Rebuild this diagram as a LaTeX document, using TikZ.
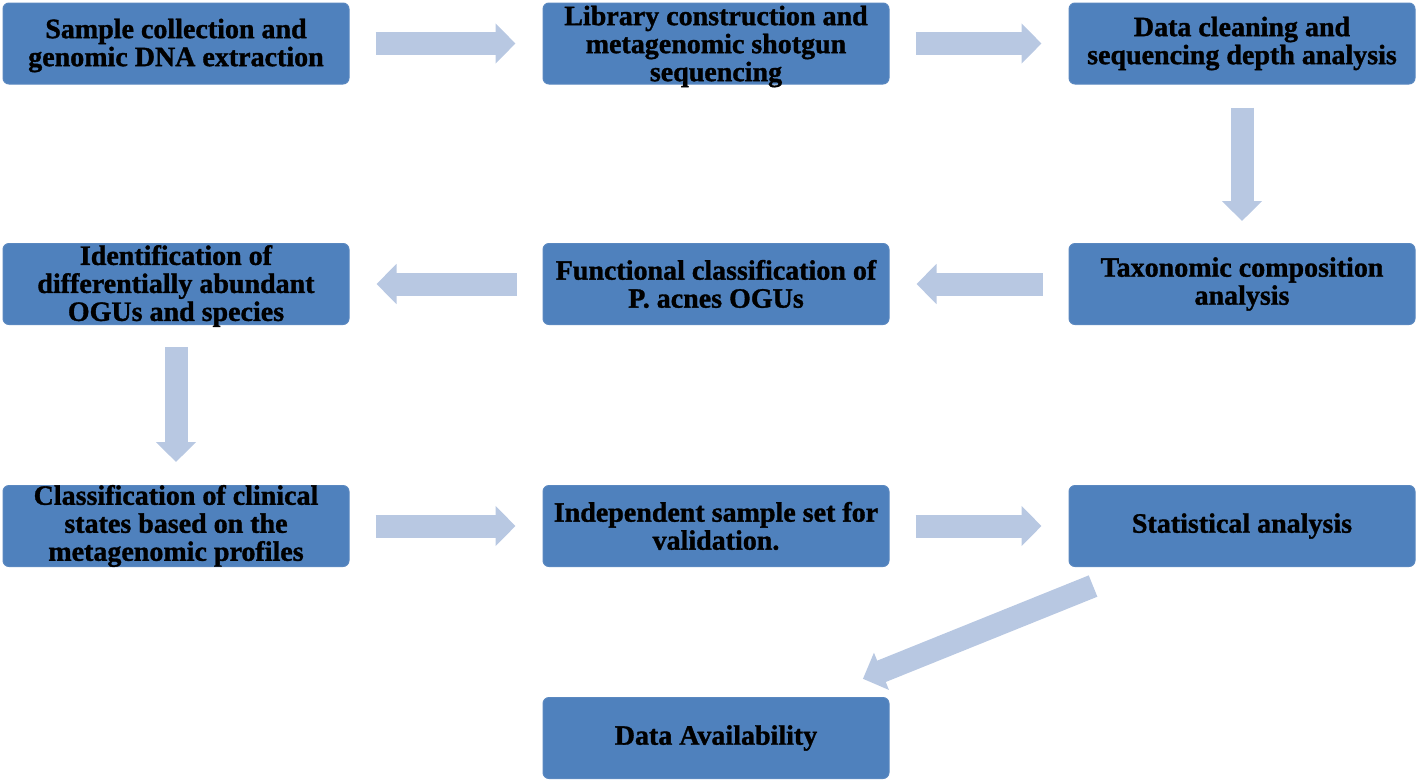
\documentclass[tikz,border=0pt]{standalone}
\usepackage{fontspec}
\setmainfont{Liberation Serif}
\newfontfamily\heavyfont{Liberation Serif Bold}[FakeBold=1.2]
\usetikzlibrary{arrows.meta}
\definecolor{boxblue}{HTML}{4F81BD}
\definecolor{boxedge}{HTML}{5A88C0}
\definecolor{arrowblue}{HTML}{B8C8E2}
\tikzset{
  box/.style={fill=boxblue, draw=boxedge, line width=0.5pt, rounded corners=3pt,
    minimum width=173pt, minimum height=40.5pt, inner sep=0pt},
  txt/.style={font=\fontsize{14}{14}\selectfont\heavyfont, align=center, inner sep=0pt, text=black},
  flow/.style={draw=arrowblue, line width=11.5pt, -{Triangle[length=10pt,width=19.5pt]}},
}
\begin{document}
\begin{tikzpicture}[x=0.5pt,y=-0.5pt]
\useasboundingbox (0,0) rectangle (1418,782);
% boxes
\node[box] (b1) at (176,43.5) {};
\node[box] (b2) at (716,43.5) {};
\node[box] (b3) at (1242,43.5) {};
\node[box] (b4) at (1242,284) {};
\node[box] (b5) at (716,284) {};
\node[box] (b6) at (176,284) {};
\node[box] (b7) at (176,526) {};
\node[box] (b8) at (716,526) {};
\node[box] (b9) at (1242,526) {};
\node[box] (b10) at (716,738) {};
% texts
\node[txt] (t1) at ([yshift=-1pt]b1) {Sample collection and\\genomic DNA extraction};
\node[txt] (t2) at ([yshift=-1.5pt]b2) {Library construction and\\metagenomic shotgun\\sequencing};
\node[txt] (t3) at (b3) {Data cleaning and\\sequencing depth analysis};
\node[txt] (t4) at (b4) {Taxonomic composition\\analysis};
\node[txt] (t5) at (b5) {Functional classification of\\P. acnes OGUs};
\node[txt] (t6) at ([yshift=-1pt]b6) {Identification of\\differentially abundant\\OGUs and species};
\node[txt] (t7) at (b7) {Classification of clinical\\states based on the\\metagenomic profiles};
\node[txt] (t8) at (b8) {Independent sample set for\\validation.};
\node[txt] (t9) at (b9) {Statistical analysis};
\node[txt] (t10) at (b10) {Data Availability};
% arrows
\draw[flow, shorten <=13pt, shorten >=13.5pt] (b1.east) -- (b2.west);
\draw[flow, shorten <=13pt, shorten >=13.5pt] (b2.east) -- (b3.west);
\draw[flow, shorten <=11.5pt, shorten >=11pt] (b3.south) -- (b4.north);
\draw[flow, shorten <=13pt, shorten >=13.5pt] (b4.west) -- (b5.east);
\draw[flow, shorten <=13pt, shorten >=13.5pt] (b5.west) -- (b6.east);
\draw[flow, shorten <=11pt, shorten >=11.5pt] (b6.south) -- (b7.north);
\draw[flow, shorten <=13pt, shorten >=13.5pt] (b7.east) -- (b8.west);
\draw[flow, shorten <=13pt, shorten >=13.5pt] (b8.east) -- (b9.west);
\draw[flow, shorten <=80.3pt, shorten >=79.2pt] (b9.center) -- (b10.center);
\end{tikzpicture}
\end{document}
